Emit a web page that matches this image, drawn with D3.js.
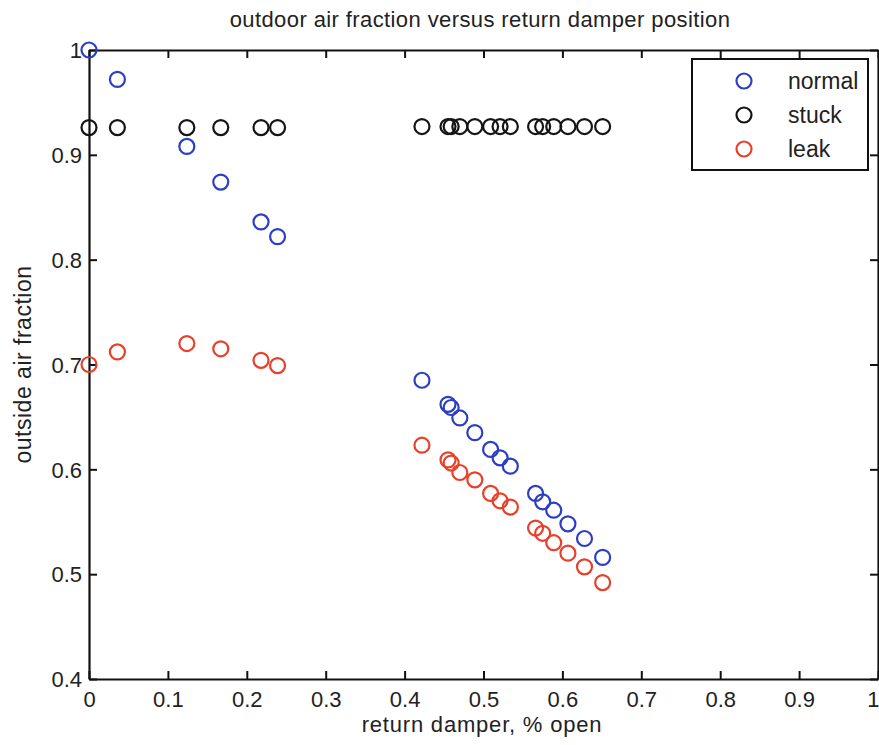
<!DOCTYPE html>
<html><head><meta charset="utf-8">
<script src="https://cdn.jsdelivr.net/npm/d3@7"></script>
<style>body{margin:0;background:#fff;} svg{display:block;font-family:"Liberation Sans",Arial,sans-serif;}</style>
</head><body>
<svg id="chart" width="879" height="745"></svg>
<script>
const damper = [0, 0.036, 0.124, 0.167, 0.218, 0.239, 0.422, 0.455, 0.459, 0.470, 0.489, 0.509, 0.521, 0.534, 0.566, 0.575, 0.589, 0.607, 0.628, 0.651];
const normal = [1.0, 0.972, 0.908, 0.874, 0.836, 0.822, 0.685, 0.662, 0.659, 0.649, 0.635, 0.619, 0.611, 0.603, 0.577, 0.569, 0.561, 0.548, 0.534, 0.516];
const stuck  = [0.926, 0.926, 0.926, 0.926, 0.926, 0.926, 0.927, 0.927, 0.927, 0.927, 0.927, 0.927, 0.927, 0.927, 0.927, 0.927, 0.927, 0.927, 0.927, 0.927];
const leak   = [0.700, 0.712, 0.720, 0.715, 0.704, 0.699, 0.623, 0.609, 0.606, 0.597, 0.590, 0.577, 0.570, 0.564, 0.544, 0.539, 0.530, 0.520, 0.507, 0.492];
const seriesNames = ["normal", "stuck", "leak"];
const seriesColors = ["#2b3ec4", "#151515", "#e8402a"];
const xTicks = [0, 0.1, 0.2, 0.3, 0.4, 0.5, 0.6, 0.7, 0.8, 0.9, 1];
const yTicks = [0.4, 0.5, 0.6, 0.7, 0.8, 0.9, 1];
const titleText = "outdoor air fraction versus return damper position";
const xLabel = "return damper, % open";
const yLabel = "outside air fraction";

const svg = d3.select("#chart");
const L = 89, R = 878, T = 50, B = 679;
const x = d3.scaleLinear().domain([0, 1]).range([L, R]);
const y = d3.scaleLinear().domain([0.4, 1]).range([B, T]);
const fmt = d => d === 0 || d === 1 ? String(d) : d.toFixed(1);

// axes with inward ticks
const tickLen = 8;
const gB = svg.append("g").attr("transform", `translate(0,${B})`)
  .call(d3.axisBottom(x).tickValues(xTicks).tickSizeInner(-tickLen).tickSizeOuter(0).tickPadding(7).tickFormat(fmt));
const gT = svg.append("g").attr("transform", `translate(0,${T})`)
  .call(d3.axisTop(x).tickValues(xTicks).tickSizeInner(-tickLen).tickSizeOuter(0).tickFormat(""));
const gL = svg.append("g").attr("transform", `translate(${L},0)`)
  .call(d3.axisLeft(y).tickValues(yTicks).tickSizeInner(-tickLen).tickSizeOuter(0).tickPadding(7).tickFormat(fmt));
const gR = svg.append("g").attr("transform", `translate(${R},0)`)
  .call(d3.axisRight(y).tickValues(yTicks).tickSizeInner(-tickLen).tickSizeOuter(0).tickFormat(""));
[gB, gT, gL, gR].forEach(g => {
  g.select(".domain").attr("stroke", "#111").attr("stroke-width", 2.2);
  g.selectAll(".tick line").attr("stroke", "#111").attr("stroke-width", 2);
  g.selectAll(".tick text").attr("fill", "#222").attr("font-size", 22)
    .attr("font-family", "\"Liberation Sans\",Arial,sans-serif");
});
gB.selectAll(".tick text").attr("dy", "0.95em")
  .filter(d => d === 1).attr("text-anchor", "end").attr("dx", 1);
gL.selectAll(".tick text").attr("dy", "0.35em");

// title and labels
svg.append("text").attr("x", 480).attr("y", 27).attr("text-anchor", "middle")
  .attr("font-size", 22).attr("letter-spacing", 0.4).attr("fill", "#222").text(titleText);
svg.append("text").attr("x", 482).attr("y", 732).attr("text-anchor", "middle")
  .attr("font-size", 22).attr("letter-spacing", 0.8).attr("fill", "#222").text(xLabel);
svg.append("text").attr("transform", `translate(31,${(T + B) / 2}) rotate(-90)`).attr("text-anchor", "middle")
  .attr("font-size", 23).attr("letter-spacing", 0.5).attr("fill", "#222").text(yLabel);

// points
const seriesVals = [normal, stuck, leak];
const order = [1, 0, 2];
order.forEach(si => {
  svg.append("g").selectAll("circle").data(damper.map((d, i) => [d, seriesVals[si][i]]))
    .join("circle")
    .attr("cx", d => x(d[0])).attr("cy", d => y(d[1])).attr("r", 7.5)
    .attr("fill", "none").attr("stroke", seriesColors[si]).attr("stroke-width", 2.2);
});

// legend
const lg = svg.append("g");
lg.append("rect").attr("x", 692).attr("y", 59).attr("width", 176).attr("height", 111)
  .attr("fill", "#fff").attr("stroke", "#111").attr("stroke-width", 2);
seriesNames.forEach((n, i) => {
  const cy = 81 + i * 34;
  lg.append("circle").attr("cx", 744).attr("cy", cy).attr("r", 7.5)
    .attr("fill", "none").attr("stroke", seriesColors[i]).attr("stroke-width", 2.2);
  lg.append("text").attr("x", 788).attr("y", cy).attr("dy", "0.35em")
    .attr("font-size", 23).attr("fill", "#222").text(n);
});
</script>
</body></html>
